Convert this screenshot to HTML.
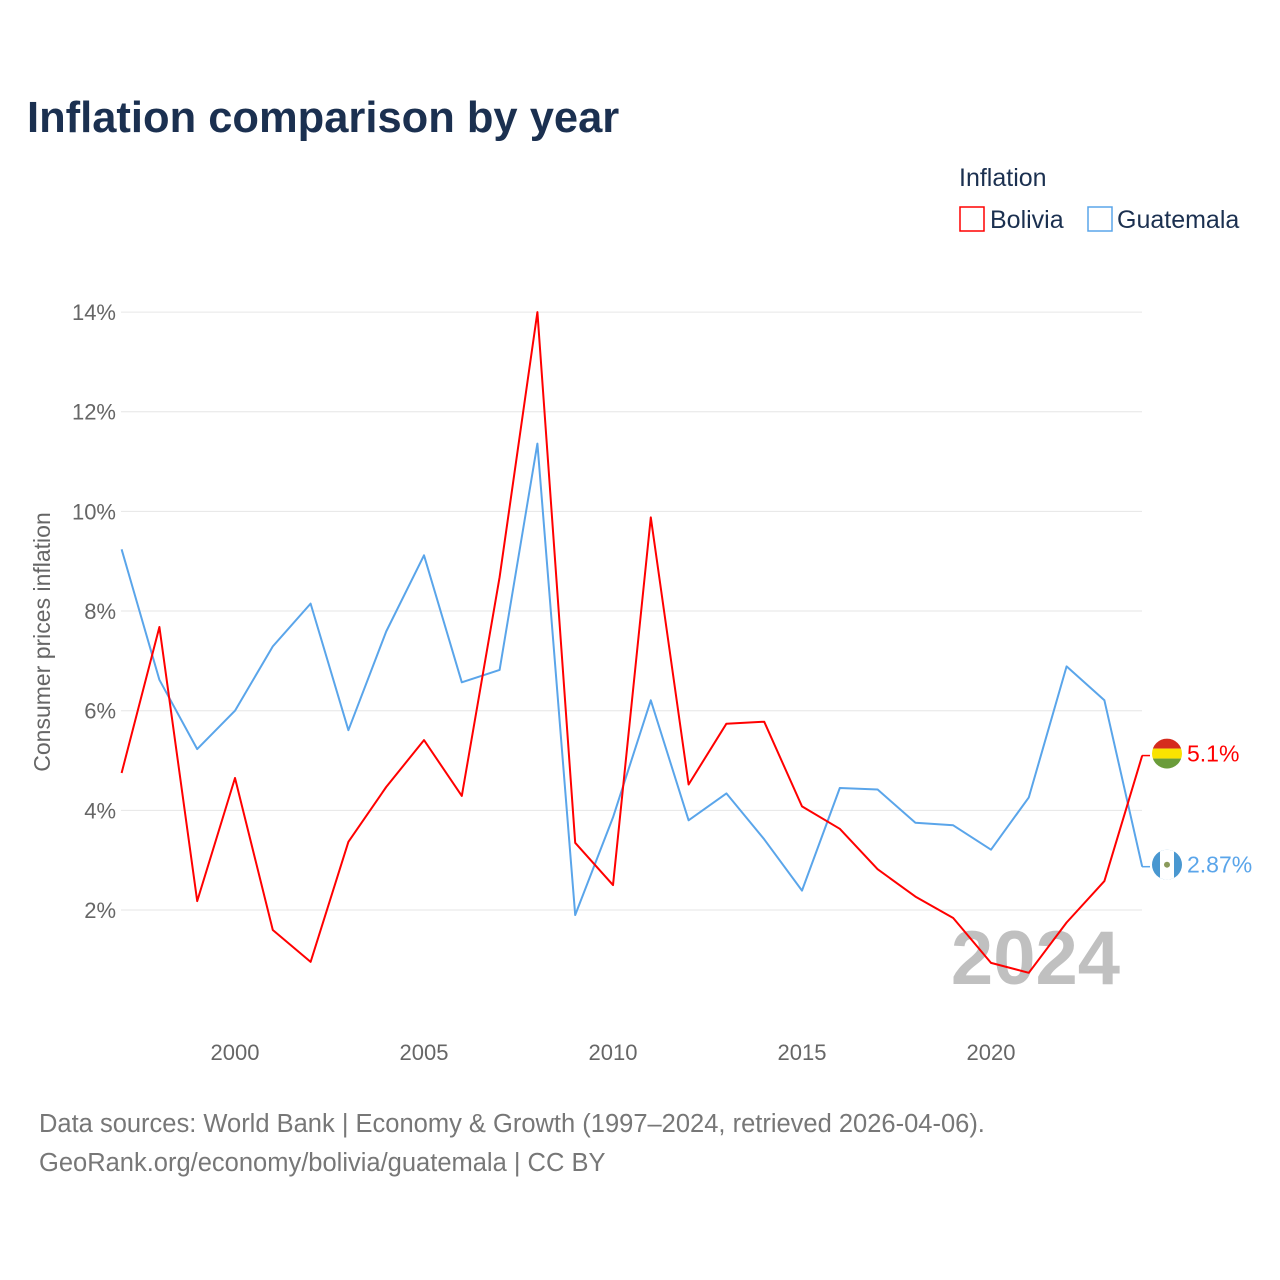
<!DOCTYPE html>
<html><head><meta charset="utf-8">
<style>
body{margin:0;background:#fff;font-family:"Liberation Sans",sans-serif;}
#wrap{position:relative;width:1280px;height:1280px;overflow:hidden;}
</style></head>
<body>
<div id="wrap">
<svg id="chart" width="1280" height="1280" style="position:absolute;left:0;top:0"></svg>
</div>
<script>
const years=[1997,1998,1999,2000,2001,2002,2003,2004,2005,2006,2007,2008,2009,2010,2011,2012,2013,2014,2015,2016,2017,2018,2019,2020,2021,2022,2023,2024];
const bolivia=[4.75,7.68,2.18,4.65,1.6,0.96,3.37,4.47,5.41,4.29,8.68,14.0,3.35,2.5,9.88,4.52,5.74,5.78,4.08,3.63,2.82,2.27,1.84,0.94,0.74,1.75,2.58,5.1];
const guatemala=[9.24,6.62,5.23,6.0,7.29,8.15,5.61,7.59,9.12,6.57,6.82,11.36,1.9,3.86,6.21,3.8,4.34,3.42,2.39,4.45,4.42,3.75,3.7,3.21,4.26,6.89,6.21,2.87];
const yTicks=[2,4,6,8,10,12,14];
const xTicks=[2000,2005,2010,2015,2020];
const endLabels=["5.1%","2.87%"];

const NS="http://www.w3.org/2000/svg";
const svg=document.getElementById('chart');
const xs=y=>235+(y-2000)*37.8;
const ys=v=>1009.7-v*49.83;
function mk(tag,attrs,txt){const e=document.createElementNS(NS,tag);for(const k in attrs)e.setAttribute(k,attrs[k]);if(txt!==undefined)e.textContent=txt;svg.appendChild(e);return e;}

let e;
e=mk('text',{x:27,y:132,'font-size':43.5,'font-weight':'bold',fill:'#1b3050'},'Inflation comparison by year');


e=mk('text',{x:959,y:186,'font-size':25,fill:'#1b3050'},'Inflation');


e=mk('rect',{x:960,y:207,width:24,height:24,fill:'none',stroke:'#f00','stroke-width':1.5});


e=mk('text',{x:990,y:228,'font-size':25,fill:'#1b3050'},'Bolivia');


e=mk('rect',{x:1088,y:207,width:24,height:24,fill:'none',stroke:'#5aa5ea','stroke-width':1.5});


e=mk('text',{x:1117,y:228,'font-size':25,fill:'#1b3050'},'Guatemala');



yTicks.forEach(t=>{
  e=mk('line',{x1:121,x2:1142,y1:ys(t),y2:ys(t),stroke:'#e6e6e6','stroke-width':1});
  
  
  e=mk('text',{x:116,y:ys(t)+8,'font-size':22,fill:'#666','text-anchor':'end'},t+'%');
  
  
});
xTicks.forEach(t=>{
  e=mk('text',{x:xs(t),y:1060,'font-size':22,fill:'#666','text-anchor':'middle'},String(t));
  
  
});
e=mk('text',{x:0,y:0,'font-size':23,fill:'#666','text-anchor':'middle',transform:'translate(50,642) rotate(-90)'},'Consumer prices inflation');


e=mk('text',{x:1120,y:984,'font-size':76,'font-weight':'bold',fill:'#c0c0c0','text-anchor':'end'},'2024');



function series(vals,color,name){
  const d=vals.map((v,i)=>(i?'L':'M')+xs(years[i]).toFixed(1)+','+ys(v).toFixed(1)).join(' ');
  e=mk('path',{d:d,fill:'none',stroke:color,'stroke-width':2,'stroke-linejoin':'round'});
  
  
}
series(guatemala,'#5aa5ea','line-guatemala');
series(bolivia,'#f00','line-bolivia');

const lastB=ys(bolivia[bolivia.length-1]), lastG=ys(guatemala[guatemala.length-1]);
e=mk('path',{d:`M1142,${lastB} L1150,${lastB}`,stroke:'#f00','stroke-width':1.5});


e=mk('path',{d:`M1142,${lastG} L1150,${lastG}`,stroke:'#5aa5ea','stroke-width':1.5});


const bf=lastB-2, gf=lastG-2;
const defs=document.createElementNS(NS,'defs');svg.appendChild(defs);
defs.innerHTML='<clipPath id="cb"><circle cx="1167" cy="'+bf+'" r="15"/></clipPath><clipPath id="cg"><circle cx="1167" cy="'+gf+'" r="15"/></clipPath>';
const gB=document.createElementNS(NS,'g');gB.setAttribute('clip-path','url(#cb)');svg.appendChild(gB);


gB.innerHTML=`<rect x="1150" y="${bf-15}" width="34" height="10" fill="#d52b1e"/><rect x="1150" y="${bf-5}" width="34" height="10" fill="#f9e300"/><rect x="1150" y="${bf+5}" width="34" height="10" fill="#6a9c3a"/>`;
const gG=document.createElementNS(NS,'g');gG.setAttribute('clip-path','url(#cg)');svg.appendChild(gG);


gG.innerHTML=`<rect x="1150" y="${gf-15}" width="34" height="30" fill="#4997d0"/><rect x="1160" y="${gf-15}" width="14" height="30" fill="#fff"/><circle cx="1167" cy="${gf}" r="3" fill="#8a9a5b"/>`;
e=mk('text',{x:1187,y:bf+8,'font-size':23,fill:'#f00'},endLabels[0]);


e=mk('text',{x:1187,y:gf+8,'font-size':23,fill:'#5aa5ea'},endLabels[1]);



e=mk('text',{x:39,y:1132,'font-size':25.5,fill:'#777'},'Data sources: World Bank | Economy & Growth (1997–2024, retrieved 2026-04-06).');


e=mk('text',{x:39,y:1171,'font-size':25.5,fill:'#777'},'GeoRank.org/economy/bolivia/guatemala | CC BY');


</script>
</body></html>
